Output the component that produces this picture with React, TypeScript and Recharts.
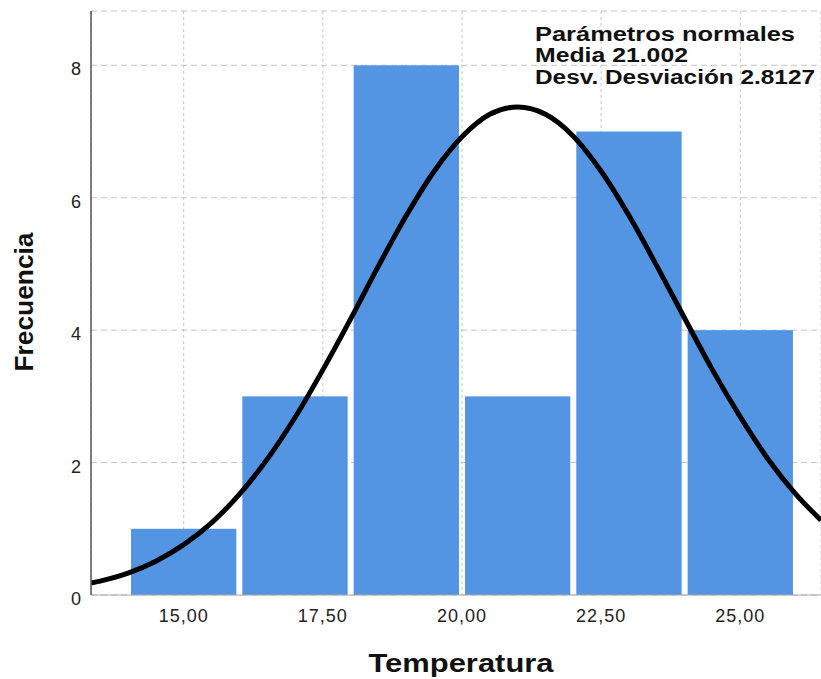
import {
  ComposedChart,
  Line,
  XAxis,
  YAxis,
  CartesianGrid,
  ReferenceArea,
  Customized,
} from "recharts"

// histogram bins (lower / upper edge) and counts
const BIN_START = [14, 16, 18, 20, 22, 24]
const BIN_END = [16, 18, 20, 22, 24, 26]
const COUNTS = [1, 3, 8, 3, 7, 4]

// fitted normal curve
const CURVE_X = [
  13.335, 13.5, 14, 14.5, 15, 15.5, 16, 16.5, 17, 17.5, 18, 18.5, 19, 19.5,
  20, 20.5, 21, 21.5, 22, 22.5, 23, 23.5, 24, 24.5, 25, 25.5, 26, 26.45,
]
const CURVE_Y = [
  0.18, 0.21, 0.33, 0.51, 0.76, 1.09, 1.52, 2.05, 2.68, 3.4, 4.17, 4.97, 5.73,
  6.4, 6.92, 7.26, 7.37, 7.26, 6.93, 6.4, 5.73, 4.97, 4.18, 3.4, 2.69, 2.05,
  1.52, 1.13,
]

const X_TICKS = [15, 17.5, 20, 22.5, 25]
const Y_TICKS = [0, 2, 4, 6, 8]

const MEAN = "21.002"
const SD = "2.8127"
const INFO_LINES = [
  "Parámetros normales",
  `Media ${MEAN}`,
  `Desv. Desviación ${SD}`,
]

const X_LABEL = "Temperatura"
const Y_LABEL = "Frecuencia"

const FONT = "'Liberation Sans', Arial, sans-serif"
const BAR_FILL = "#5394e3"
const GRID = "#c4c4c4"

const curve = CURVE_X.map((x, i) => ({ x, y: CURVE_Y[i] }))

function fmt(v: number) {
  return v.toFixed(2).replace(".", ",")
}

function XTick({ x, y, payload }: any) {
  return (
    <text
      x={x}
      y={y}
      dy={27}
      textAnchor="middle"
      fontSize={18}
      letterSpacing={1}
      fontFamily={FONT}
      fill="#222"
    >
      {fmt(payload.value)}
    </text>
  )
}

function YTick({ x, y, payload }: any) {
  return (
    <text
      x={x - 10}
      y={y}
      dy={10}
      textAnchor="end"
      fontSize={18}
      fontFamily={FONT}
      fill="#222"
    >
      {payload.value}
    </text>
  )
}

function BarShape(props: any) {
  const { x, y, width, height } = props
  return <rect x={x + 3} y={y} width={width - 6} height={height} fill={BAR_FILL} />
}

const INFO_WIDTHS = [260, 153, 280]

function Annotations() {
  return (
    <g fontFamily={FONT} fontWeight="bold" fill="#111">
      {INFO_LINES.map((t, i) => (
        <text
          key={t}
          x={535}
          y={40.5 + i * 21.5}
          fontSize={20}
          textLength={INFO_WIDTHS[i]}
          lengthAdjust="spacingAndGlyphs"
        >
          {t}
        </text>
      ))}
      <text
        x={461}
        y={672}
        fontSize={25}
        textAnchor="middle"
        textLength={185}
        lengthAdjust="spacingAndGlyphs"
      >
        {X_LABEL}
      </text>
      <text
        x={33}
        y={302}
        fontSize={25}
        textAnchor="middle"
        transform="rotate(-90 33 302)"
        textLength={139}
        lengthAdjust="spacingAndGlyphs"
      >
        {Y_LABEL}
      </text>
    </g>
  )
}

export default function App() {
  return (
    <div style={{ position: "absolute", left: 0, top: 0, background: "#fff" }}>
      <ComposedChart
        width={821}
        height={679}
        data={curve}
        margin={{ top: 11, right: 0, bottom: 0, left: 0 }}
      >
        <CartesianGrid
          vertical={false}
          stroke={GRID}
          strokeDasharray="6 4"
        />
        <CartesianGrid
          horizontal={false}
          stroke={GRID}
          strokeDasharray="3 3"
        />
        <XAxis
          type="number"
          dataKey="x"
          domain={[13.335, 26.45]}
          allowDataOverflow
          ticks={X_TICKS}
          tick={<XTick />}
          tickLine={false}
          tickSize={0}
          tickMargin={0}
          height={84}
          stroke="#a8a8a8"
        />
        <YAxis
          type="number"
          domain={[0, 8.82]}
          allowDataOverflow
          ticks={Y_TICKS}
          tick={<YTick />}
          tickLine={false}
          tickSize={0}
          tickMargin={0}
          width={91}
          stroke="#555"
          strokeWidth={1.5}
        />
        {COUNTS.map((c, i) => (
          <ReferenceArea
            key={i}
            x1={BIN_START[i]}
            x2={BIN_END[i]}
            y1={0}
            y2={c}
            shape={<BarShape />}
            fillOpacity={1}
          />
        ))}
        <Line
          dataKey="y"
          type="monotone"
          stroke="#000"
          strokeWidth={5}
          dot={false}
          activeDot={false}
          isAnimationActive={false}
        />
        <Customized component={<Annotations />} />
      </ComposedChart>
    </div>
  )
}
